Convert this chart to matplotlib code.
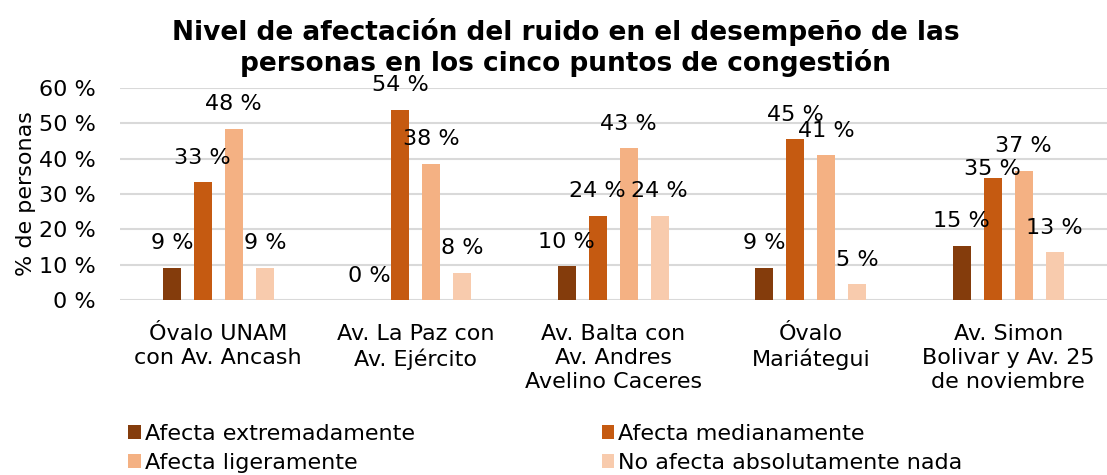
import matplotlib.pyplot as plt
import numpy as np

plt.rcParams['font.family'] = ['DejaVu Sans']

categories = ["Óvalo UNAM\ncon Av. Ancash", "Av. La Paz con\nAv. Ejército",
              "Av. Balta con\nAv. Andres\nAvelino Caceres", "Óvalo\nMariátegui",
              "Av. Simon\nBolivar y Av. 25\nde noviembre"]
series = ["Afecta extremadamente", "Afecta medianamente",
          "Afecta ligeramente", "No afecta absolutamente nada"]
extremadamente = [9.1, 0.0, 9.6, 9.1, 15.4]
medianamente = [33.3, 53.8, 23.8, 45.5, 34.6]
ligeramente = [48.5, 38.5, 42.9, 40.9, 36.5]
nada = [9.1, 7.7, 23.8, 4.5, 13.5]
labels = [
    ["9 %", "0 %", "10 %", "9 %", "15 %"],
    ["33 %", "54 %", "24 %", "45 %", "35 %"],
    ["48 %", "38 %", "43 %", "41 %", "37 %"],
    ["9 %", "8 %", "24 %", "5 %", "13 %"],
]
colors = ["#843C0C", "#C55A11", "#F4B183", "#F8CBAD"]

fig = plt.figure(figsize=(11.07, 4.75), dpi=100)
ax = fig.add_axes([0.108, 0.368, 0.892, 0.447])

x = np.arange(len(categories))
width = 0.09
step = 0.157
values = [extremadamente, medianamente, ligeramente, nada]
bars = []
for i, (vals, name, col) in enumerate(zip(values, series, colors)):
    pos = x + (i - 1.5) * step
    bars.append(ax.bar(pos, vals, width, color=col, label=name, zorder=3))
    for j, (p, v, t) in enumerate(zip(pos, vals, labels[i])):
        dy = 10.5
        if (i, j) == (1, 4):
            dy = -1  # label was nudged down in the original to clear "37 %"
        ax.annotate(t, (p, v), xytext=(0, dy), textcoords="offset points",
                    ha="center", va="bottom", fontsize=16, zorder=4)

ax.set_xlim(-0.5, len(categories) - 0.5)
ax.set_ylim(0, 60)
ax.set_yticks(range(0, 61, 10))
ax.set_yticklabels([f"{v} %" for v in range(0, 61, 10)], fontsize=16)
ax.set_xticks(x)
ax.set_xticklabels(categories, fontsize=16, linespacing=1.25)
ax.tick_params(axis="y", length=0, pad=17)
ax.tick_params(axis="x", length=0, pad=17)
ax.grid(axis="y", color="#d9d9d9", linewidth=1.5, zorder=0)
for s in ax.spines.values():
    s.set_visible(False)
ax.set_ylabel("% de personas", fontsize=16)
ax.yaxis.set_label_coords(-0.085, 0.5)

fig.text(0.511, 0.962, "Nivel de afectación del ruido en el desempeño de las\n"
         "personas en los cinco puntos de congestión",
         ha="center", va="top", fontsize=19, fontweight="bold", linespacing=1.12)

order = [0, 2, 1, 3]
fig.legend([bars[i] for i in order], [series[i] for i in order],
           loc="lower left", bbox_to_anchor=(0.104, -0.024), ncol=2, fontsize=16,
           frameon=False, handlelength=0.55, handleheight=0.6, handletextpad=0.2,
           columnspacing=8.4, labelspacing=0.42, borderaxespad=0.2)

fig.savefig("out.png", dpi=100)
